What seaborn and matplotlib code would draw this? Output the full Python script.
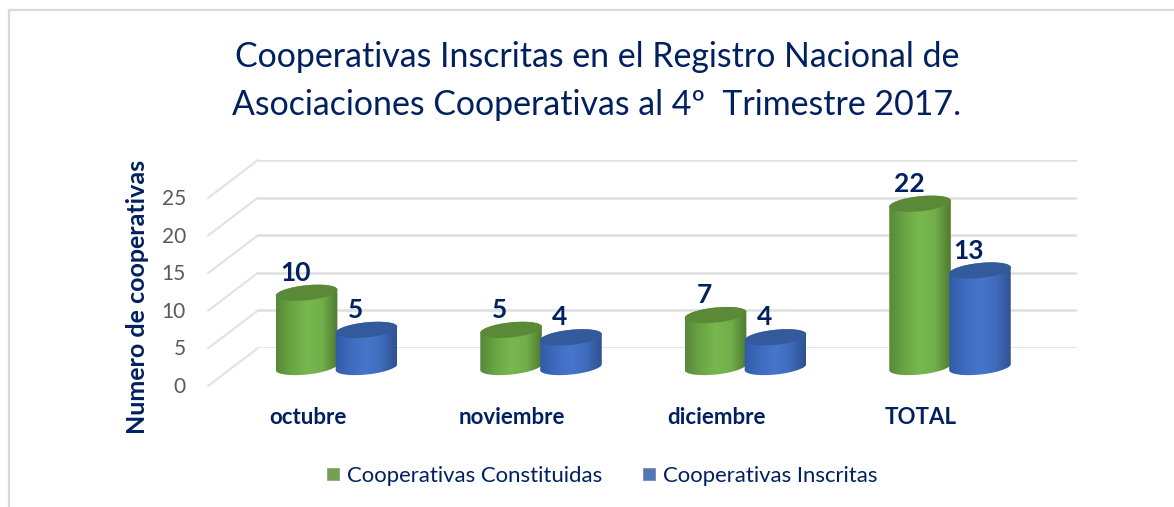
import numpy as np
import pandas as pd
import seaborn as sns
import matplotlib.pyplot as plt
from matplotlib.colors import LinearSegmentedColormap
from matplotlib.lines import Line2D
from matplotlib.patches import Polygon
from matplotlib.transforms import Affine2D

meses = ["octubre", "noviembre", "diciembre", "TOTAL"]
constituidas = [10, 5, 7, 22]
inscritas = [5, 4, 4, 13]
series = ["Cooperativas Constituidas", "Cooperativas Inscritas"]
yticks = [0, 5, 10, 15, 20, 25]
titulo = "Cooperativas Inscritas en el Registro Nacional de\nAsociaciones Cooperativas al 4º  Trimestre 2017."

navy = "#002060"
W, H = 1174, 507
px_x = 204.5
px_y = 7.52
px_bar = 7.42

sns.set_theme(style="white")
plt.rcParams["font.family"] = ["Lato", "DejaVu Sans"]

df = pd.DataFrame({
    "mes": meses * 2,
    "valor": constituidas + inscritas,
    "serie": [series[0]] * 4 + [series[1]] * 4,
})

fig = plt.figure(figsize=(W / 100, H / 100), dpi=100, facecolor="white")

# back wall with gridlines
wall = fig.add_axes([258 / W, (H - 348) / H, 819 / W, 25 * px_y / H])
wall.set_xlim(0, 1)
wall.set_ylim(0, 25)
wall.set_xticks([])
wall.set_yticks(yticks)
wall.grid(axis="y", color="#DFDFDF", lw=1.8)
wall.tick_params(axis="y", length=0, pad=52, labelsize=15, labelcolor="#595959")
sns.despine(ax=wall, left=True, bottom=True)
for lab in wall.get_yticklabels():
    lab.set_transform(lab.get_transform() + Affine2D().translate(0, -37))
for t in yticks:
    wall.annotate("", xy=(0, t), xycoords=wall.get_yaxis_transform(),
                  xytext=(-50, -38), textcoords="offset pixels",
                  arrowprops=dict(arrowstyle="-", color="#E2E2E2", lw=1.5,
                                  shrinkA=0, shrinkB=0))
wall.set_ylabel("Numero de cooperativas", fontsize=18, fontweight="bold", color=navy)
wall.yaxis.set_label_coords((149 - 258) / 819, (348 - 297) / (25 * px_y))

# front axes, floor sits 19 px lower than the wall, with room under 0 for the round base
ax = fig.add_axes([259 / W, (H - 367 - 3 * px_bar) / H, 819 / W, 33 * px_bar / H])
ax.patch.set_alpha(0)
sns.barplot(data=df, x="mes", y="valor", hue="serie", order=meses,
            palette=["#70AD47", "#4472C4"], width=0.586, gap=0, ax=ax)
ax.set_xlabel("")
ax.set_ylabel("")
ax.set_yticks([])
ax.tick_params(axis="x", length=0, pad=13)
sns.despine(ax=ax, left=True, bottom=True)
for lab in ax.get_xticklabels():
    lab.set_fontsize(16)
    lab.set_fontweight("bold")
    lab.set_color(navy)
    lab.set_transform(lab.get_transform() + Affine2D().translate(-29, 0))

cmaps = [
    LinearSegmentedColormap.from_list("g", ["#57893A", "#6BA544", "#78B850", "#72AE4A", "#4F7A30"]),
    LinearSegmentedColormap.from_list("b", ["#2F5BA6", "#3F6BBE", "#4676CC", "#3F6BBB", "#2E5290"]),
]
caps = ["#5A8A38", "#335A9A"]
ramp = np.linspace(0, 1, 128).reshape(1, -1)


def ellipse(cx, cy, t):
    # tilted ellipse points, worked out in pixels then back to data units
    a, b, tilt = 31.0, 7.5, np.radians(6)
    dx = a * np.cos(t) * np.cos(tilt) - b * np.sin(t) * np.sin(tilt)
    dy = a * np.cos(t) * np.sin(tilt) + b * np.sin(t) * np.cos(tilt)
    return np.column_stack([cx + dx / px_x, cy + dy / px_bar])


for i, cont in enumerate(ax.containers):
    for bar in cont:
        cx = bar.get_x() + bar.get_width() / 2
        h = bar.get_height()
        z = 3 + i
        top = ellipse(cx, h, np.linspace(-0.1, np.pi - 0.1, 40))
        bot = ellipse(cx, 0, np.linspace(np.pi - 0.1, 2 * np.pi - 0.1, 40))
        body = Polygon(np.vstack([top, bot]), closed=True, fc="none", ec="none",
                       transform=ax.transData, zorder=z)
        ax.add_patch(body)
        bar.set_clip_path(body)
        x0, x1 = cx - 31 / px_x, cx + 31 / px_x
        im = ax.imshow(ramp, cmap=cmaps[i], aspect="auto", zorder=z,
                       extent=(x0, x1, -3, h + 2))
        im.set_clip_path(body)
        ax.add_patch(Polygon(ellipse(cx, h, np.linspace(0, 2 * np.pi, 60)),
                             closed=True, fc=caps[i], ec="none", zorder=z + 0.1))
        ax.annotate(f"{h:.0f}", (cx, h), xytext=(-11, 20), textcoords="offset pixels",
                    ha="center", va="center", fontsize=19, fontweight="bold",
                    color=navy, zorder=10, annotation_clip=False)

ax.set_xlim((258 - 335.5) / px_x, (1077 - 335.5) / px_x)
ax.set_ylim(-3, 30)

sns.move_legend(ax, "center", bbox_to_anchor=(602 / W, (H - 476) / H),
                bbox_transform=fig.transFigure, ncol=2, title=None, frameon=False,
                fontsize=15.9, labelcolor=navy, handlelength=0.63, handleheight=0.63,
                handletextpad=0.32, columnspacing=1.8)

fig.text(597 / W, (H - 81) / H, titulo, ha="center", va="center", fontsize=24.4,
         color=navy, linespacing=1.65)

# outer frame of the pasted chart
for xs, ys in [((9, W), (10, 10)), ((9, 9), (10, H))]:
    fig.add_artist(Line2D([x / W for x in xs], [(H - y) / H for y in ys],
                          color="#D9D9D9", lw=1.6))

fig.savefig("out.png", dpi=100)
